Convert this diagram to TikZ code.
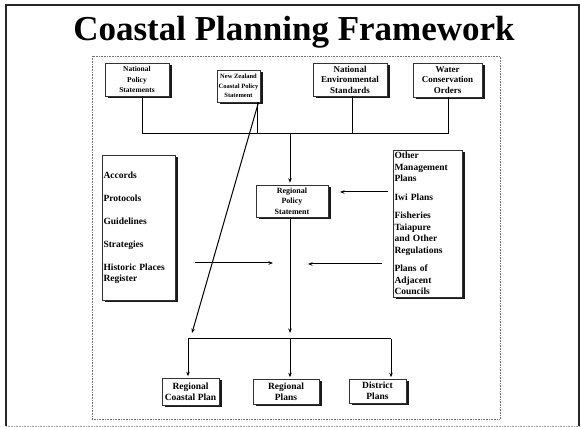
\documentclass[tikz,border=0pt]{standalone}
\usepackage{fontspec}
\setmainfont{Liberation Serif}
\usetikzlibrary{arrows.meta,shadows}
\newcommand\myfs[2]{\fontsize{#1}{#2}\selectfont}
\begin{document}
\begin{tikzpicture}[x=1pt,y=-1pt,
  bx/.style={draw=black!80,line width=0.6pt,fill=white,inner sep=1pt,align=center,
     drop shadow={shadow xshift=2.5pt,shadow yshift=-2.5pt,fill=black,opacity=0.9}},
  sidebox/.style={bx,align=left,inner xsep=1.5pt},
  conn/.style={line width=1pt,draw=black},
  arr/.style={conn,-{Stealth[length=4.5pt,width=3.5pt]}}]
\useasboundingbox (0,0) rectangle (581,427);
% frames
\draw[black!85,line width=1.6pt] (6,426) -- (6,5) -- (579,5) -- (579,426);
\draw[black!40,line width=0.6pt,densely dotted] (6,426) -- (579,426);
\draw[black!55,line width=0.6pt,densely dotted] (92,56) rectangle (500,419);
% title
\node[font=\bfseries\myfs{35}{40},anchor=base,inner sep=0pt] (title) at (294,41) {Coastal Planning Framework};
% top boxes
\node[bx,minimum width=64,minimum height=33,font=\bfseries\myfs{7.5}{10.5}] (nps) at (137,79.5) {National\\Policy\\Statements};
\node[bx,minimum width=43,minimum height=32,font=\bfseries\myfs{6.5}{9.5}] (nzcps) at (238.5,86) {New Zealand\\Coastal Policy\\Statement};
\node[bx,minimum width=74,minimum height=33,font=\bfseries\myfs{9}{10.5}] (nes) at (350,79.5) {National\\Environmental\\Standards};
\node[bx,minimum width=69,minimum height=34,font=\bfseries\myfs{9}{10.5}] (wco) at (447.5,80) {Water\\Conservation\\Orders};
% regional policy statement
\node[bx,minimum width=72,minimum height=32,font=\bfseries\myfs{8}{10.5}] (rps) at (292,201) {Regional\\Policy\\Statement};
% side boxes
\node[sidebox,text width=70,minimum height=145,font=\bfseries\myfs{9.5}{11}] (left) at (138.5,227.5)
  {Accords\\[12pt]Protocols\\[12pt]Guidelines\\[12pt]Strategies\\[12pt]Historic Places\\Register};
\node[sidebox,text width=66,minimum height=147,font=\bfseries\myfs{9.5}{11.5}] (right) at (427.5,223.5)
  {Other\\Management\\Plans\\[7pt]Iwi Plans\\[7pt]Fisheries\\Taiapure\\and Other\\Regulations\\[7pt]Plans of\\Adjacent\\Councils};
% bottom boxes
\node[bx,minimum width=57,minimum height=27,font=\bfseries\myfs{9.5}{11}] (rcp) at (190.5,391.5) {Regional\\Coastal Plan};
\node[bx,minimum width=66,minimum height=25,font=\bfseries\myfs{9.5}{11}] (rp) at (286,391.5) {Regional\\Plans};
\node[bx,minimum width=57,minimum height=24,font=\bfseries\myfs{9.5}{11}] (dp) at (377.5,391) {District\\Plans};
% junctions
\coordinate (j1) at (142,134);
\coordinate (j2) at (257,134);
\coordinate (j3) at (352,134);
\coordinate (j4) at (448,134);
\coordinate (jc) at (290,134);
\coordinate (k1) at (188,339);
\coordinate (k2) at (290,339);
\coordinate (k3) at (391,339);
\coordinate (l0) at (195,263);
\coordinate (l1) at (273,263);
\coordinate (r0) at (382,264);
\coordinate (r1) at (308,264);
\coordinate (u0) at (388,192);
\coordinate (u1) at (340,192);
% connectors
\draw[conn] (nps.south -| j1) -- (j1);
\draw[conn] (nzcps.south -| j2) -- (j2);
\draw[conn] (nes.south -| j3) -- (j3);
\draw[conn] (wco.south -| j4) -- (j4);
\draw[conn] (j1) -- (j4);
\draw[arr,shorten >=2pt] (jc) -- (rps.north -| jc);
\draw[arr] ([xshift=20]nzcps.south) -- ([shift={(4,-6)}]k1);
\draw[arr] (rps.south -| k2) -- ([yshift=6]k2);
\draw[conn] (k1) -- (k3);
\draw[arr,shorten >=1.5pt] (k1) -- (rcp.north -| k1);
\draw[arr,shorten >=1.5pt] (k2) -- (rp.north -| k2);
\draw[arr,shorten >=1.5pt] (k3) -- (dp.north -| k3);
\draw[arr] (l0) -- (l1);
\draw[arr] (r0) -- (r1);
\draw[arr] (u0) -- (u1);
\end{tikzpicture}
\end{document}
